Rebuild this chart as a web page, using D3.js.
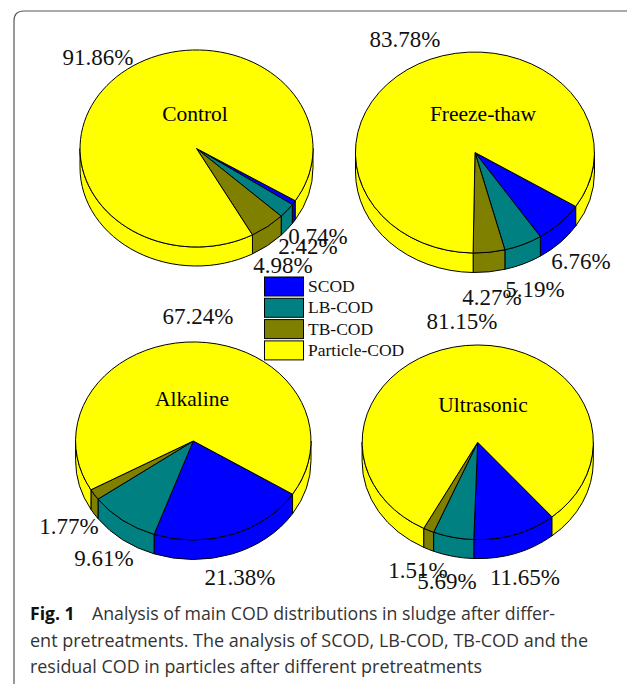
<!DOCTYPE html>
<html><head><meta charset="utf-8">
<script src="https://cdn.jsdelivr.net/npm/d3@7/dist/d3.min.js"></script>
<style>html,body{margin:0;padding:0;background:#fff}svg{display:block}</style>
</head><body><svg id="c" width="627" height="684"></svg>
<script>
const categories=["SCOD","LB-COD","TB-COD","Particle-COD"];
const colors=["#0000ff","#008080","#808000","#ffff00"];
const panels=["Control","Freeze-thaw","Alkaline","Ultrasonic"];
const controlVals=[0.74,2.42,4.98,91.86];
const freezeVals=[6.76,5.19,4.27,83.78];
const alkalineVals=[21.38,9.61,1.77,67.24];
const ultrasonicVals=[11.65,5.69,1.51,81.15];
const series=[controlVals,freezeVals,alkalineVals,ultrasonicVals];
const startDeg=[122,122.5,122.5,140];
const centers=[[196.5,148.5],[475,152.5],[193.3,441],[477.7,442.3]];
const radii=[[116.5,98.5],[119.5,100.5],[117.7,99],[115.6,97.3]];
const depth=[19,19.5,19.5,19];
const titlePos=[[195,121],[483,121],[192,406],[483,412]];
const labelPos=[
 [[318,244],[308,254],[283,273],[98,65]],
 [[581,269],[535,297],[492,305],[405,47]],
 [[240,585],[104,566],[69,534],[198,324]],
 [[525,585],[447,589],[418,578],[462,329]]
];
const captionLines=["Analysis of main COD distributions in sludge after differ-","ent pretreatments. The analysis of SCOD, LB-COD, TB-COD and the","residual COD in particles after different pretreatments"];
const serif="'Liberation Serif','Times New Roman',serif";
const svg=d3.select("#c");
const p=d3.path();p.moveTo(627,11);p.lineTo(24,11);p.quadraticCurveTo(14,11,14,21);p.lineTo(14,684);
svg.append("path").attr("d",p.toString()).attr("fill","none").attr("stroke","#555").attr("stroke-width",1.2);
const TAU=2*Math.PI, H=Math.PI/2;
series.forEach((vals,i)=>{
  const [cx,cy]=centers[i],[rx,ry]=radii[i],d=depth[i];
  const s=startDeg[i]*Math.PI/180;
  const arcs=d3.pie().sort(null).startAngle(s).endAngle(s+TAU)(vals);
  const g=svg.append("g");
  const pt=(a,o=0)=>[cx+rx*Math.sin(a),cy-ry*Math.cos(a)+o];
  const wall=(a,b,c)=>{
    [[H,3*H],[H+TAU,3*H+TAU]].forEach(([lo,hi])=>{
      const x=Math.max(a,lo),y=Math.min(b,hi);
      if(y<=x)return;
      const A=pt(x),B=pt(y),C=pt(y,d),D=pt(x,d);
      g.append("path").attr("d",`M${A}A${rx} ${ry} 0 0 1 ${B}L${C}A${rx} ${ry} 0 0 0 ${D}Z`)
       .attr("fill",c).attr("stroke","#000").attr("stroke-width",1);
    });
  };
  arcs.forEach((a,j)=>wall(a.startAngle,a.endAngle,colors[j]));
  const arc=d3.arc().innerRadius(0).outerRadius(1);
  g.selectAll("path.top").data(arcs).join("path").attr("class","top")
   .attr("transform",`translate(${cx},${cy}) scale(${rx},${ry})`)
   .attr("d",arc).attr("fill",(a,j)=>colors[j])
   .attr("stroke","#000").attr("stroke-width",1).attr("vector-effect","non-scaling-stroke");
  g.append("text").attr("x",titlePos[i][0]).attr("y",titlePos[i][1]).attr("text-anchor","middle")
   .attr("font-family",serif).attr("font-size",21.5).text(panels[i]);
  vals.forEach((v,j)=>{
    g.append("text").attr("x",labelPos[i][j][0]).attr("y",labelPos[i][j][1]).attr("text-anchor","middle")
     .attr("font-family",serif).attr("font-size",23).attr("fill","#111").text(v.toFixed(2)+"%");
  });
});
const leg=svg.append("g");
categories.forEach((c,i)=>{
  const y=277+i*21.3;
  leg.append("rect").attr("x",264.5).attr("y",y).attr("width",39).attr("height",19)
    .attr("fill",colors[i]).attr("stroke","#000").attr("stroke-width",1);
  leg.append("text").attr("x",308).attr("y",y+15).attr("font-family",serif).attr("font-size",17.5).attr("fill","#111").text(c);
});
const sans="'Open Sans','Noto Sans',sans-serif";
const cap=svg.append("g").attr("font-family",sans).attr("font-size",17.6).attr("fill","#333");
cap.append("text").attr("x",30).attr("y",620).attr("font-weight","bold").attr("fill","#111").text("Fig. 1");
cap.append("text").attr("x",92).attr("y",620).attr("textLength",463).attr("lengthAdjust","spacingAndGlyphs").text(captionLines[0]);
cap.append("text").attr("x",30).attr("y",647).attr("textLength",558).attr("lengthAdjust","spacingAndGlyphs").text(captionLines[1]);
cap.append("text").attr("x",30).attr("y",673).attr("textLength",452).attr("lengthAdjust","spacingAndGlyphs").text(captionLines[2]);
</script></body></html>
